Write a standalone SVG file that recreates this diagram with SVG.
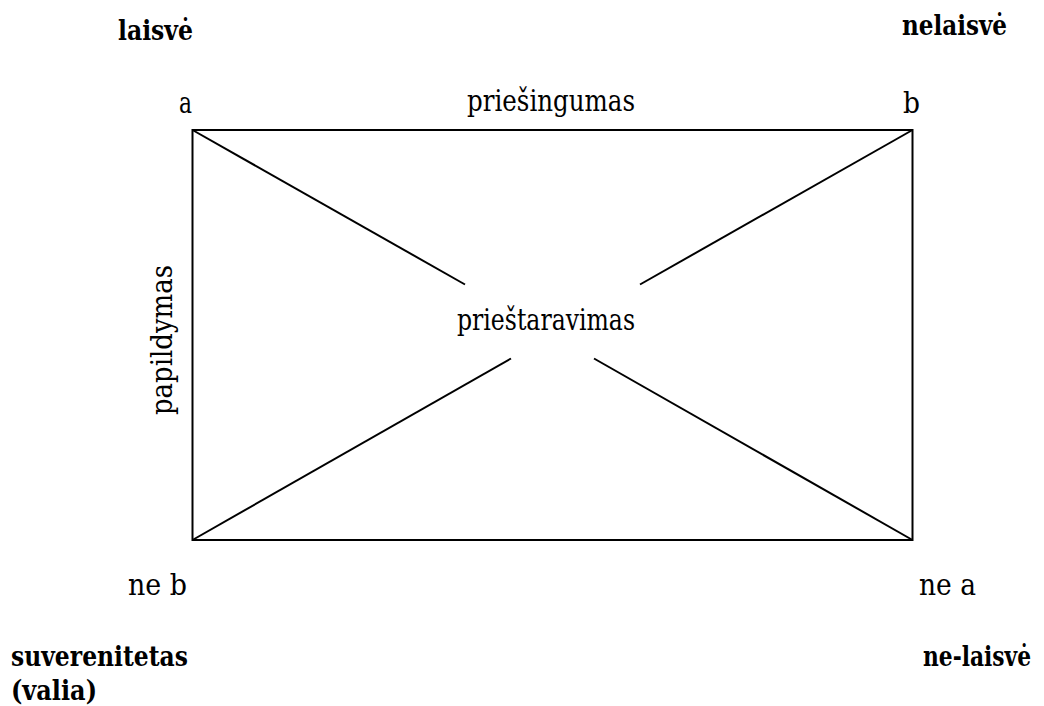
<svg xmlns="http://www.w3.org/2000/svg" width="1044" height="706" viewBox="0 0 1044 706">
<style>
text{font-family:"DejaVu Serif","Liberation Serif",serif;fill:#000}
.t{font-size:29px}
.b{font-size:28.5px;font-weight:bold}
.ln{stroke:#000;stroke-width:2;fill:none}
</style>
<rect width="1044" height="706" fill="#fff"/>
<g id="connectors">
<rect class="ln" x="192.5" y="130" width="720" height="410"/>
<line class="ln" x1="192.5" y1="130" x2="465" y2="284.5"/>
<line class="ln" x1="912.5" y1="130" x2="640" y2="284.5"/>
<line class="ln" x1="192.5" y1="540" x2="511" y2="358.5"/>
<line class="ln" x1="912.5" y1="540" x2="594" y2="358.5"/>
</g>
<g id="label-priesingumas"><text class="t" x="467" y="111" textLength="168" lengthAdjust="spacingAndGlyphs">priešingumas</text></g>
<g id="label-priestaravimas"><text class="t" x="457" y="330" textLength="178" lengthAdjust="spacingAndGlyphs">prieštaravimas</text></g>
<g id="label-papildymas"><text class="t" transform="translate(172 415) rotate(-90)" x="0" y="0" textLength="150" lengthAdjust="spacingAndGlyphs">papildymas</text></g>
<g id="node-a">
<text class="t" x="179" y="113" textLength="13" lengthAdjust="spacingAndGlyphs">a</text>
<text class="b" x="118" y="40" textLength="75" lengthAdjust="spacingAndGlyphs">laisvė</text>
</g>
<g id="node-b">
<text class="t" x="903" y="113" textLength="17" lengthAdjust="spacingAndGlyphs">b</text>
<text class="b" x="1007" y="35" text-anchor="end" textLength="105" lengthAdjust="spacingAndGlyphs">nelaisvė</text>
</g>
<g id="node-neb">
<text class="t" x="128" y="595" textLength="59" lengthAdjust="spacingAndGlyphs">ne  b</text>
<text class="b" x="11" y="666" textLength="177" lengthAdjust="spacingAndGlyphs">suverenitetas</text>
<text class="b" x="11" y="700" textLength="86" lengthAdjust="spacingAndGlyphs">(valia)</text>
</g>
<g id="node-nea">
<text class="t" x="976" y="595" text-anchor="end" textLength="57" lengthAdjust="spacingAndGlyphs">ne  a</text>
<text class="b" transform="translate(1031 666) scale(0.75 1)" x="0" y="0" text-anchor="end" textLength="144" lengthAdjust="spacingAndGlyphs">ne-laisvė</text>
</g>
</svg>
